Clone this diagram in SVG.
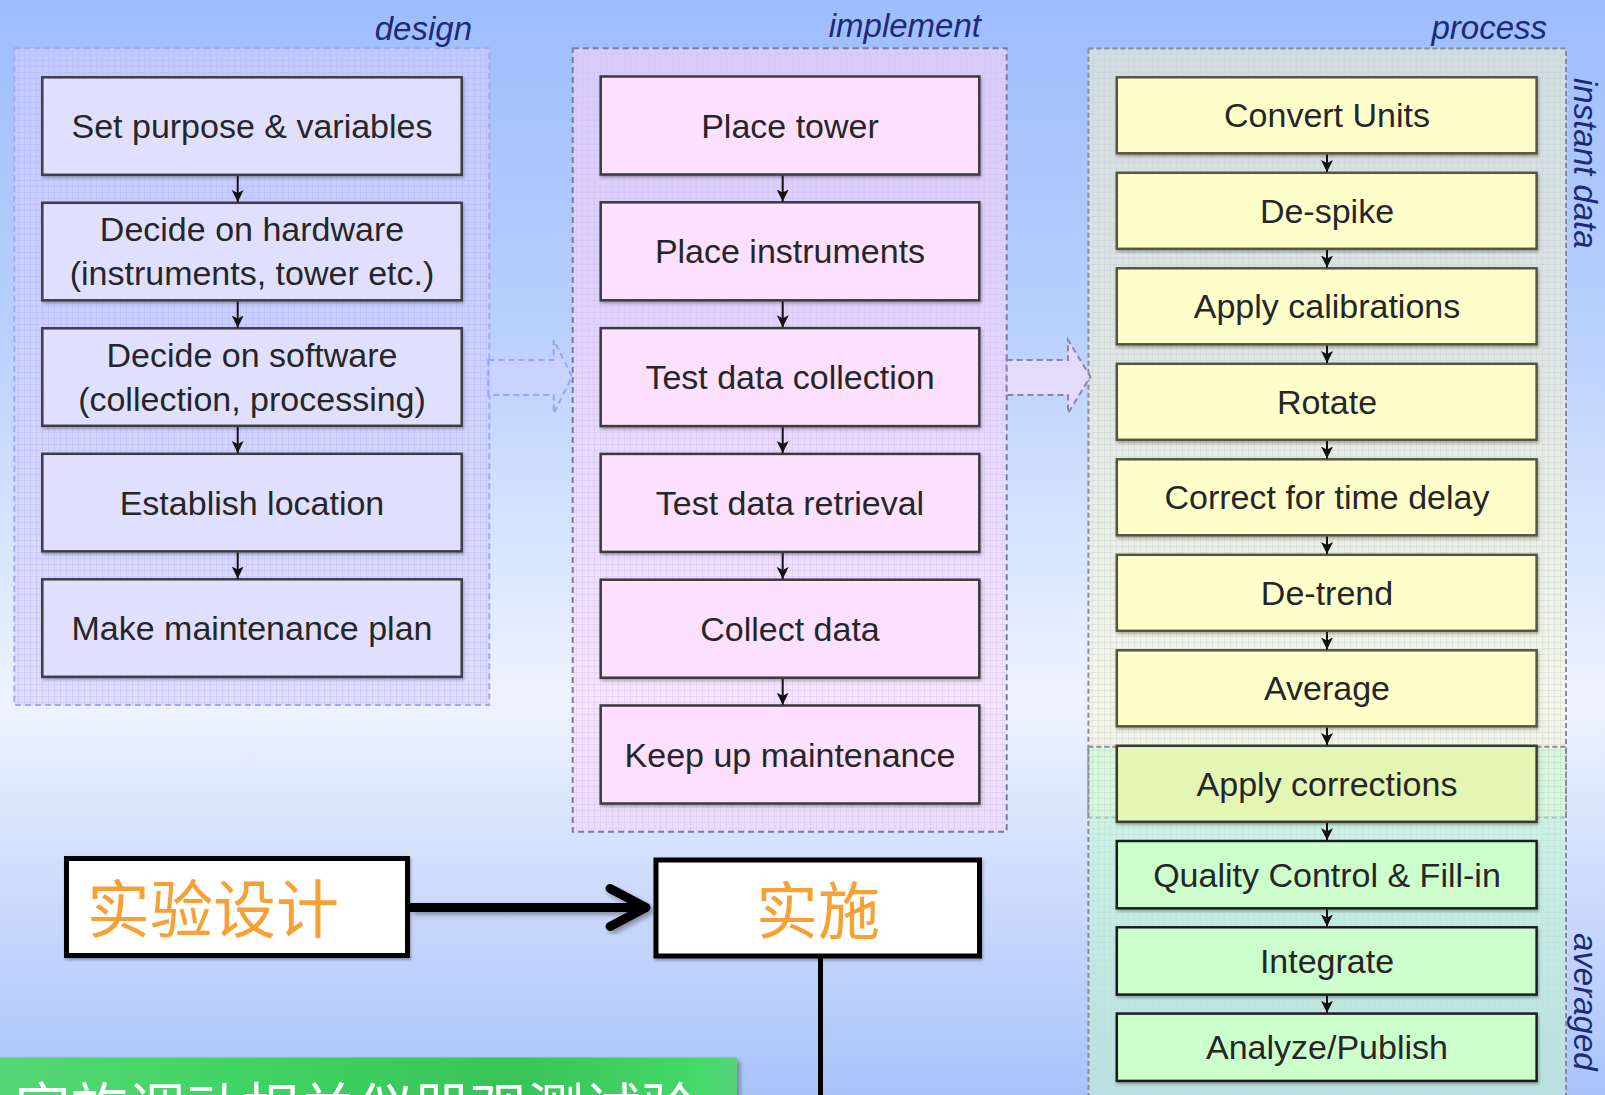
<svg xmlns="http://www.w3.org/2000/svg" width="1605" height="1095" viewBox="0 0 1605 1095">
<defs>
<linearGradient id="bg" x1="0" y1="0" x2="0" y2="1">
<stop offset="0" stop-color="#9dbdfb"/>
<stop offset="0.3" stop-color="#b9d0fc"/>
<stop offset="0.64" stop-color="#eef4fe"/>
<stop offset="0.8" stop-color="#cfddfc"/>
<stop offset="1" stop-color="#a9c3fa"/>
</linearGradient>
<linearGradient id="banner" x1="0" y1="0" x2="1" y2="0">
<stop offset="0" stop-color="#56d676"/>
<stop offset="0.3" stop-color="#42d466"/>
<stop offset="0.7" stop-color="#38c458"/>
<stop offset="0.95" stop-color="#44d86a"/>
<stop offset="1" stop-color="#58d27a"/>
</linearGradient>
<pattern id="gD" width="6" height="6" patternUnits="userSpaceOnUse">
<rect width="6" height="6" fill="#d8d0ff" fill-opacity="0.6"/>
<path d="M0 0.5H6M0.5 0V6" stroke="#b4b8f4" stroke-opacity="0.45" stroke-width="1"/>
</pattern>
<pattern id="gI" width="6" height="6" patternUnits="userSpaceOnUse">
<rect width="6" height="6" fill="#fcd8fc" fill-opacity="0.55"/>
<path d="M0 0.5H6M0.5 0V6" stroke="#d8c0f0" stroke-opacity="0.45" stroke-width="1"/>
</pattern>
<pattern id="gY" width="6" height="6" patternUnits="userSpaceOnUse">
<rect width="6" height="6" fill="#fffcc8" fill-opacity="0.5"/>
<path d="M0 0.5H6M0.5 0V6" stroke="#c8d0d8" stroke-opacity="0.45" stroke-width="1"/>
</pattern>
<pattern id="gG" width="6" height="6" patternUnits="userSpaceOnUse">
<rect width="6" height="6" fill="#c8fcd0" fill-opacity="0.5"/>
<path d="M0 0.5H6M0.5 0V6" stroke="#b8e0d0" stroke-opacity="0.45" stroke-width="1"/>
</pattern>
<marker id="ah" markerUnits="userSpaceOnUse" markerWidth="14" markerHeight="14" refX="12" refY="6.5" orient="auto">
<path d="M0,0.5 L12,6.5 L0,12.5 L3,6.5 z" fill="#111"/>
</marker>
<filter id="sh" x="-5%" y="-5%" width="115%" height="125%">
<feDropShadow dx="1" dy="2" stdDeviation="1.5" flood-color="#000" flood-opacity="0.3"/>
</filter>
<filter id="sh2" x="-5%" y="-10%" width="115%" height="130%">
<feDropShadow dx="3" dy="3" stdDeviation="2.5" flood-color="#000" flood-opacity="0.35"/>
</filter>
</defs>
<style>
.lbl{font-family:"Liberation Sans",Arial,sans-serif;font-style:italic;font-size:33px;fill:#1c2a78}
.t{font-family:"Liberation Sans",Arial,sans-serif;font-size:34px;fill:#262626;text-anchor:middle}
.bd{fill:#e0e0fe;stroke:#3c3c44;stroke-width:2.5}
.bi{fill:#fde0fd;stroke:#3a3a3a;stroke-width:2.5}
.by{fill:#ffffcc;stroke:#55553f;stroke-width:2.5}
.byg{fill:#e4f6b4;stroke:#3a3a30;stroke-width:2.5}
.bg{fill:#ccffcc;stroke:#1e1e1e;stroke-width:2.5}
.cn{stroke:#111;stroke-width:2;fill:none}
.cjk{font-family:"Noto Sans CJK SC","Noto Sans CJK JP",sans-serif}
</style>
<rect x="0" y="0" width="1605" height="1095" fill="url(#bg)"/>

<g id="containers">
<rect id="design-group" x="14.3" y="48.3" width="475" height="656.7" fill="url(#gD)" stroke="#a0a8f8" stroke-width="2" stroke-dasharray="6 4"/>
<rect id="implement-group" x="572.7" y="48.3" width="434" height="783.4" fill="url(#gI)" stroke="#7a7aa0" stroke-width="2" stroke-dasharray="6 4"/>
<rect id="process-instant" x="1088.4" y="48.5" width="477.6" height="769" fill="url(#gY)" stroke="#8a8a98" stroke-width="2" stroke-dasharray="5 3"/>
<rect id="process-averaged" x="1088.4" y="746.7" width="477.6" height="370" fill="url(#gG)" stroke="#8a8a98" stroke-width="2" stroke-dasharray="5 3"/>
<text class="lbl" x="472" y="40" text-anchor="end">design</text>
<text class="lbl" x="981" y="37" text-anchor="end">implement</text>
<text class="lbl" x="1547" y="38.5" text-anchor="end">process</text>
<text class="lbl" transform="translate(1574,78) rotate(90)" font-size="34.5">instant data</text>
<text class="lbl" transform="translate(1574,933) rotate(90)">averaged</text>
</g>

<g id="block-arrows">
<path d="M488.4,360 H553.7 V340 L572,376.7 L553.7,413.3 V395 H488.4 Z" fill="#ccd2fc" fill-opacity="0.8" stroke="#98a2f8" stroke-width="2" stroke-dasharray="6 4"/>
<path d="M1006.7,360 H1068 V340 L1090.4,376.7 L1068,413.3 V395 H1006.7 Z" fill="#ecdcf8" fill-opacity="0.8" stroke="#8884aa" stroke-width="2" stroke-dasharray="6 4"/>
</g>

<g id="design-nodes">
<g id="d1"><rect class="bd" x="42.3" y="77.3" width="419.4" height="97.5" filter="url(#sh)"/><text class="t" x="252" y="138">Set purpose &amp; variables</text></g>
<g id="d2"><rect class="bd" x="42.3" y="202.8" width="419.4" height="97.5" filter="url(#sh)"/><text class="t" x="252" y="241">Decide on hardware</text><text class="t" x="252" y="285">(instruments, tower etc.)</text></g>
<g id="d3"><rect class="bd" x="42.3" y="328.3" width="419.4" height="97.5" filter="url(#sh)"/><text class="t" x="252" y="367">Decide on software</text><text class="t" x="252" y="411">(collection, processing)</text></g>
<g id="d4"><rect class="bd" x="42.3" y="453.8" width="419.4" height="97.5" filter="url(#sh)"/><text class="t" x="252" y="514.5">Establish location</text></g>
<g id="d5"><rect class="bd" x="42.3" y="579.3" width="419.4" height="97.5" filter="url(#sh)"/><text class="t" x="252" y="640">Make maintenance plan</text></g>
</g>

<g id="implement-nodes">
<g id="i1"><rect class="bi" x="600.7" y="76.5" width="378.6" height="98" filter="url(#sh)"/><text class="t" x="790" y="137.5">Place tower</text></g>
<g id="i2"><rect class="bi" x="600.7" y="202.3" width="378.6" height="98" filter="url(#sh)"/><text class="t" x="790" y="263.3">Place instruments</text></g>
<g id="i3"><rect class="bi" x="600.7" y="328.1" width="378.6" height="98" filter="url(#sh)"/><text class="t" x="790" y="389.1">Test data collection</text></g>
<g id="i4"><rect class="bi" x="600.7" y="453.9" width="378.6" height="98" filter="url(#sh)"/><text class="t" x="790" y="514.9">Test data retrieval</text></g>
<g id="i5"><rect class="bi" x="600.7" y="579.7" width="378.6" height="98" filter="url(#sh)"/><text class="t" x="790" y="640.7">Collect data</text></g>
<g id="i6"><rect class="bi" x="600.7" y="705.5" width="378.6" height="98" filter="url(#sh)"/><text class="t" x="790" y="766.5">Keep up maintenance</text></g>
</g>

<g id="process-nodes">
<g id="p1"><rect class="by" x="1116.8" y="77.3" width="419.8" height="76" filter="url(#sh)"/><text class="t" x="1327" y="127.3">Convert Units</text></g>
<g id="p2"><rect class="by" x="1116.8" y="172.8" width="419.8" height="76" filter="url(#sh)"/><text class="t" x="1327" y="222.8">De-spike</text></g>
<g id="p3"><rect class="by" x="1116.8" y="268.3" width="419.8" height="76" filter="url(#sh)"/><text class="t" x="1327" y="318.3">Apply calibrations</text></g>
<g id="p4"><rect class="by" x="1116.8" y="363.8" width="419.8" height="76" filter="url(#sh)"/><text class="t" x="1327" y="413.8">Rotate</text></g>
<g id="p5"><rect class="by" x="1116.8" y="459.3" width="419.8" height="76" filter="url(#sh)"/><text class="t" x="1327" y="509.3">Correct for time delay</text></g>
<g id="p6"><rect class="by" x="1116.8" y="554.8" width="419.8" height="76" filter="url(#sh)"/><text class="t" x="1327" y="604.8">De-trend</text></g>
<g id="p7"><rect class="by" x="1116.8" y="650.3" width="419.8" height="76" filter="url(#sh)"/><text class="t" x="1327" y="700.3">Average</text></g>
<g id="p8"><rect class="byg" x="1116.8" y="745.8" width="419.8" height="76" filter="url(#sh)"/><text class="t" x="1327" y="795.8">Apply corrections</text></g>
<g id="p9"><rect class="bg" x="1116.8" y="841" width="419.8" height="67.3" filter="url(#sh)"/><text class="t" x="1327" y="886.7">Quality Control &amp; Fill-in</text></g>
<g id="p10"><rect class="bg" x="1116.8" y="927.3" width="419.8" height="67.3" filter="url(#sh)"/><text class="t" x="1327" y="973">Integrate</text></g>
<g id="p11"><rect class="bg" x="1116.8" y="1013.6" width="419.8" height="67.3" filter="url(#sh)"/><text class="t" x="1327" y="1059.3">Analyze/Publish</text></g>
</g>

<g id="connectors">
<line class="cn" x1="237.7" y1="176" x2="237.7" y2="202" marker-end="url(#ah)"/>
<line class="cn" x1="237.7" y1="301.5" x2="237.7" y2="327.5" marker-end="url(#ah)"/>
<line class="cn" x1="237.7" y1="427" x2="237.7" y2="453" marker-end="url(#ah)"/>
<line class="cn" x1="237.7" y1="552.5" x2="237.7" y2="578.5" marker-end="url(#ah)"/>
<line class="cn" x1="782.7" y1="175.7" x2="782.7" y2="201.5" marker-end="url(#ah)"/>
<line class="cn" x1="782.7" y1="301.5" x2="782.7" y2="327.3" marker-end="url(#ah)"/>
<line class="cn" x1="782.7" y1="427.3" x2="782.7" y2="453.1" marker-end="url(#ah)"/>
<line class="cn" x1="782.7" y1="553.1" x2="782.7" y2="578.9" marker-end="url(#ah)"/>
<line class="cn" x1="782.7" y1="678.9" x2="782.7" y2="704.7" marker-end="url(#ah)"/>
<line class="cn" x1="1327" y1="154.5" x2="1327" y2="172" marker-end="url(#ah)"/>
<line class="cn" x1="1327" y1="250" x2="1327" y2="267.5" marker-end="url(#ah)"/>
<line class="cn" x1="1327" y1="345.5" x2="1327" y2="363" marker-end="url(#ah)"/>
<line class="cn" x1="1327" y1="441" x2="1327" y2="458.5" marker-end="url(#ah)"/>
<line class="cn" x1="1327" y1="536.5" x2="1327" y2="554" marker-end="url(#ah)"/>
<line class="cn" x1="1327" y1="632" x2="1327" y2="649.5" marker-end="url(#ah)"/>
<line class="cn" x1="1327" y1="727.5" x2="1327" y2="745" marker-end="url(#ah)"/>
<line class="cn" x1="1327" y1="823" x2="1327" y2="840.2" marker-end="url(#ah)"/>
<line class="cn" x1="1327" y1="909.5" x2="1327" y2="926.5" marker-end="url(#ah)"/>
<line class="cn" x1="1327" y1="995.8" x2="1327" y2="1012.8" marker-end="url(#ah)"/>
<g filter="url(#sh2)">
<line x1="410" y1="907.5" x2="642" y2="907.5" stroke="#000" stroke-width="9"/>
<polyline points="610,888.5 646,907.5 610,926.5" fill="none" stroke="#000" stroke-width="9" stroke-linecap="round" stroke-linejoin="round"/>
</g>
<line x1="820.5" y1="958" x2="820.5" y2="1095" stroke="#000" stroke-width="5"/>
</g>

<g id="cn-design">
<rect x="66.5" y="858.5" width="341" height="97" fill="#fff" stroke="#000" stroke-width="5" filter="url(#sh)"/>
<text class="cjk" x="87" y="932" font-size="63" fill="#f7a035">实验设计</text>
</g>
<g id="cn-implement">
<rect x="656" y="860" width="323.5" height="96" fill="#fff" stroke="#000" stroke-width="5" filter="url(#sh)"/>
<text class="cjk" x="818" y="934" font-size="62" fill="#f7a035" text-anchor="middle">实施</text>
</g>
<g id="banner">
<rect x="-5" y="1057.5" width="742" height="60" fill="url(#banner)" filter="url(#sh2)"/>
<text class="cjk" x="14" y="1130" font-size="57" fill="#ffffff">实施调动相关仪器观测试验</text>
</g>
</svg>
